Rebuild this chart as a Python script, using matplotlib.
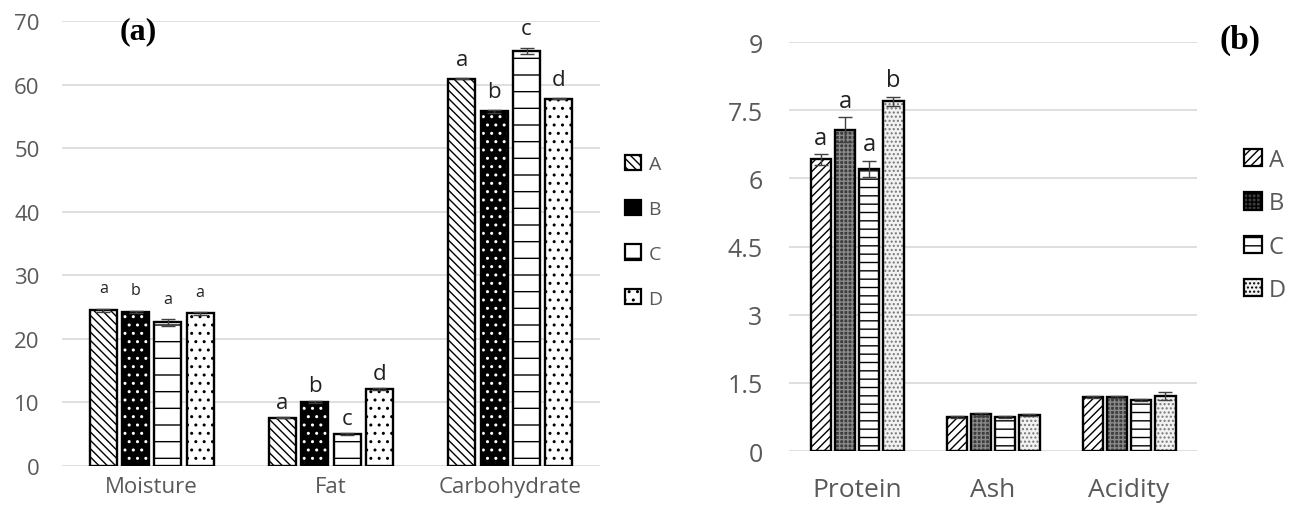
import numpy as np
import matplotlib
matplotlib.use("Agg")
import matplotlib.pyplot as plt
from matplotlib.patches import Patch

plt.rcParams['font.family'] = ['Open Sans', 'DejaVu Sans']
plt.rcParams['hatch.linewidth'] = 1.0

# --- data, panel (a) ---
cats_a = ["Moisture", "Fat", "Carbohydrate"]
groups = ["A", "B", "C", "D"]
vals_a = {
    "A": [24.5, 7.6, 60.9],
    "B": [24.2, 10.1, 55.8],
    "C": [22.6, 5.0, 65.3],
    "D": [24.0, 12.1, 57.8],
}
err_a = {
    "A": [0.2, 0.1, 0.1],
    "B": [0.2, 0.2, 0.2],
    "C": [0.5, 0.2, 0.5],
    "D": [0.2, 0.1, 0.1],
}
letters_a = {
    "A": ["a", "a", "a"],
    "B": ["b", "b", "b"],
    "C": ["a", "c", "c"],
    "D": ["a", "d", "d"],
}

# --- data, panel (b) ---
cats_b = ["Protein", "Ash", "Acidity"]
vals_b = {
    "A": [6.42, 0.75, 1.18],
    "B": [7.07, 0.81, 1.19],
    "C": [6.21, 0.75, 1.12],
    "D": [7.70, 0.79, 1.21],
}
err_b = {
    "A": [0.12, 0.02, 0.02],
    "B": [0.28, 0.03, 0.02],
    "C": [0.18, 0.02, 0.02],
    "D": [0.10, 0.02, 0.08],
}
letters_b = {
    "A": ["a", "", ""],
    "B": ["a", "", ""],
    "C": ["a", "", ""],
    "D": ["b", "", ""],
}

gray_txt = "#595959"
grid_c = "#d9d9d9"

fig = plt.figure(figsize=(12.91, 5.06), dpi=100)
ax1 = fig.add_axes([0.048, 0.0771, 0.4168, 0.8794])
ax2 = fig.add_axes([0.6112, 0.1067, 0.316, 0.8083])

# styles: (facecolor, hatch, hatchcolor)
sty_a = {
    "A": ("white", "\\\\\\\\", "black"),
    "B": ("black", "..", "white"),
    "C": ("white", "-", "black"),
    "D": ("white", "..", "black"),
}
sty_b = {
    "A": ("white", "////", "black"),
    "B": ("#3c3c3c", "++++", "#8a8a8a"),
    "C": ("white", "--", "black"),
    "D": ("#f2f2f2", "....", "#777777"),
}


def draw(ax, cats, vals, errs, letters, sty, width, step, lsize, loff):
    x = np.arange(len(cats))
    for i, g in enumerate(groups):
        xi = x + (i - 1.5) * step
        fc, hatch, hc = sty[g]
        # hatch layer, then black outline on top
        ax.bar(xi, vals[g], width, color=fc, edgecolor=hc, hatch=hatch,
               linewidth=0, zorder=2)
        ax.bar(xi, vals[g], width, fill=False, edgecolor="black",
               linewidth=1.7, zorder=3)
        ax.errorbar(xi, vals[g], yerr=errs[g], fmt="none", ecolor="#404040",
                    elinewidth=1, capsize=5, capthick=1, zorder=4)
        for j in range(len(cats)):
            if not letters[g][j]:
                continue
            ax.annotate(letters[g][j], (xi[j], vals[g][j] + errs[g][j]),
                        xytext=(0, loff[j]), textcoords="offset points",
                        ha="center", va="bottom", fontsize=lsize[j],
                        color="#222222")
    ax.set_xlim(-0.5, len(cats) - 0.5)
    ax.set_xticks(x)
    ax.set_xticklabels(cats)
    ax.yaxis.grid(True, color=grid_c, linewidth=1.2, zorder=0)
    ax.set_axisbelow(True)
    for s in ax.spines.values():
        s.set_visible(False)
    ax.tick_params(length=0, colors=gray_txt)


draw(ax1, cats_a, vals_a, err_a, letters_a, sty_a, 0.15, 0.18,
     lsize=[11.5, 16, 16], loff=[9, 3, 6])
ax1.set_ylim(0, 70)
ax1.set_yticks(np.arange(0, 71, 10))
ax1.tick_params(axis="y", labelsize=16, pad=16)
ax1.tick_params(axis="x", labelsize=16, pad=7)

draw(ax2, cats_b, vals_b, err_b, letters_b, sty_b, 0.15, 0.178,
     lsize=[17, 17, 17], loff=[3, 3, 3])
ax2.set_ylim(0, 9)
ax2.set_yticks(np.arange(0, 9.1, 1.5))
ax2.set_yticklabels(["0", "1.5", "3", "4.5", "6", "7.5", "9"])
ax2.tick_params(axis="y", labelsize=18, pad=19)
ax2.tick_params(axis="x", labelsize=19, pad=19)

# legends
leg_a = [Patch(facecolor=sty_a[g][0] if g != "B" else "black",
               edgecolor="black", hatch=sty_a[g][1], linewidth=1.6, label=g)
         for g in groups]
fig.legend(handles=leg_a, loc="upper left", bbox_to_anchor=(0.4765, 0.711),
           frameon=False, fontsize=14, labelcolor=gray_txt, handlelength=0.82,
           handleheight=0.82, handletextpad=0.4, labelspacing=1.36, borderpad=0)

leg_b = [Patch(facecolor=sty_b[g][0], edgecolor="black", hatch=sty_b[g][1],
               linewidth=1.6, label=g) for g in groups]
fig.legend(handles=leg_b, loc="upper left", bbox_to_anchor=(0.9545, 0.729),
           frameon=False, fontsize=17, labelcolor=gray_txt, handlelength=0.75,
           handleheight=0.75, handletextpad=0.3, labelspacing=0.82, borderpad=0)

fig.text(0.093, 0.937, "(a)", fontsize=23, fontweight="bold",
         family="Liberation Serif", ha="left", va="center")
fig.text(0.945, 0.921, "(b)", fontsize=24, fontweight="bold",
         family="Liberation Serif", ha="left", va="center")

fig.savefig("out.png", dpi=100)
